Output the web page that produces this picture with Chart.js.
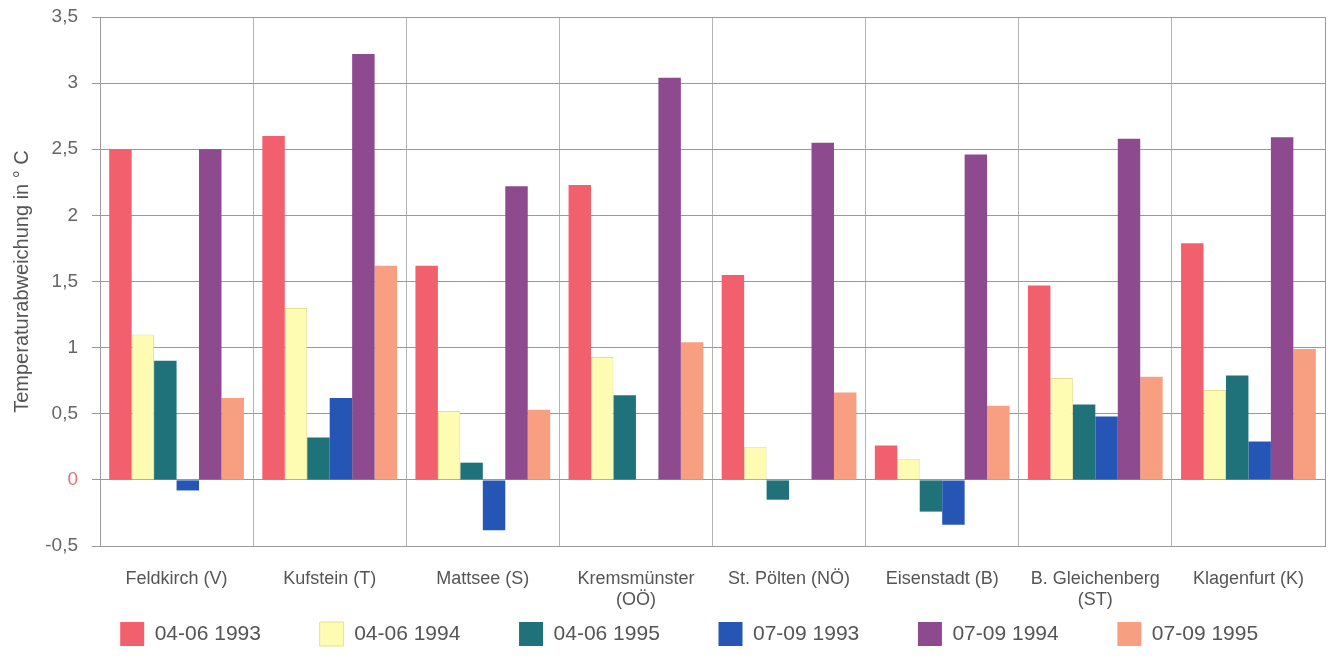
<!DOCTYPE html>
<html>
<head>
<meta charset="utf-8">
<script src="https://cdn.jsdelivr.net/npm/chart.js@4.4.0/dist/chart.umd.min.js"></script>
<style>
  html, body { margin: 0; padding: 0; background: #fff; }
  #wrap { width: 1335px; height: 670px; position: relative; }
</style>
</head>
<body>
<div id="wrap"><canvas id="chart"></canvas></div>
<script>
// Stationen
const stations = ['Feldkirch (V)', 'Kufstein (T)', 'Mattsee (S)', ['Kremsmünster', '(OÖ)'],
    'St. Pölten (NÖ)', 'Eisenstadt (B)', ['B. Gleichenberg', '(ST)'], 'Klagenfurt (K)'];

// Temperaturabweichung je Zeitraum (°C)
const apr1993 = [2.5, 2.6, 1.62, 2.23, 1.55, 0.26, 1.47, 1.79];
const apr1994 = [1.1, 1.3, 0.52, 0.93, 0.25, 0.16, 0.77, 0.68];
const apr1995 = [0.9, 0.32, 0.13, 0.64, -0.15, -0.24, 0.57, 0.79];
const jul1993 = [-0.08, 0.62, -0.38, 0, 0, -0.34, 0.48, 0.29];
const jul1994 = [2.5, 3.22, 2.22, 3.04, 2.55, 2.46, 2.58, 2.59];
const jul1995 = [0.62, 1.62, 0.53, 1.04, 0.66, 0.56, 0.78, 0.99];

const seriesNames = ['04-06 1993', '04-06 1994', '04-06 1995', '07-09 1993', '07-09 1994', '07-09 1995'];
const yTicks = [-0.5, 0, 0.5, 1, 1.5, 2, 2.5, 3, 3.5];
const yTickLabels = ['-0,5', '0', '0,5', '1', '1,5', '2', '2,5', '3', '3,5'];

const colors = ['#f2606d', '#fdfcb2', '#1f727a', '#2556b6', '#8d4a8e', '#f79f80'];
const values = [apr1993, apr1994, apr1995, jul1993, jul1994, jul1995];

const font = '"Liberation Sans", Arial, sans-serif';
const legendGap = '        ';

// Rahmen um die Zeichenfläche
const framePlugin = {
    id: 'frame',
    afterDraw(chart) {
        const a = chart.chartArea;
        const c = chart.ctx;
        c.save();
        c.strokeStyle = '#9a9a9a';
        c.lineWidth = 1;
        c.strokeRect(a.left + 0.5, a.top + 0.5, a.right - a.left, a.bottom - a.top);
        c.restore();
    }
};

new Chart(document.getElementById('chart'), {
    type: 'bar',
    data: {
        labels: stations,
        datasets: values.map((v, i) => ({
            label: seriesNames[i],
            data: v,
            backgroundColor: colors[i],
            borderColor: i === 1 ? '#e4e08e' : colors[i],
            borderWidth: i === 1 ? 1 : 0,
            categoryPercentage: 0.88,
            barPercentage: 1.0
        }))
    },
    options: {
        responsive: true,
        maintainAspectRatio: false,
        animation: false,
        layout: { padding: { top: 17, right: 10, left: 6, bottom: 14 } },
        plugins: {
            legend: {
                position: 'bottom',
                align: 'center',
                fullSize: false,
                labels: {
                    font: { family: font, size: 21 },
                    color: '#555',
                    boxWidth: 24,
                    boxHeight: 24,
                    padding: 12,
                    generateLabels(chart) {
                        const items = Chart.defaults.plugins.legend.labels.generateLabels(chart);
                        items.forEach(it => { it.text = it.text + legendGap; });
                        return items;
                    }
                }
            },
            tooltip: { enabled: false }
        },
        scales: {
            x: {
                grid: { color: '#b4b4b4', offset: true, drawTicks: false },
                border: { display: false },
                afterFit(axis) {
                    axis.height = 64;
                },
                ticks: {
                    font: { family: font, size: 18 },
                    color: '#555',
                    padding: 22,
                    maxRotation: 0
                }
            },
            y: {
                min: -0.5,
                max: 3.5,
                afterBuildTicks(axis) {
                    axis.ticks = yTicks.map(v => ({ value: v }));
                },
                afterFit(axis) {
                    axis.width = 94;
                    axis.paddingTop = 0;
                    axis.paddingBottom = 0;
                },
                grid: { color: '#999', drawTicks: true, tickLength: 8 },
                border: { color: '#9a9a9a' },
                title: {
                    display: true,
                    text: 'Temperaturabweichung in ° C',
                    font: { family: font, size: 20 },
                    color: '#555'
                },
                ticks: {
                    font: { family: font, size: 19 },
                    color: ctx => ctx.tick.value === 0 ? '#e8707a' : '#666',
                    padding: 14,
                    callback: v => yTickLabels[yTicks.indexOf(v)]
                }
            }
        }
    },
    plugins: [framePlugin]
});
</script>
</body>
</html>
